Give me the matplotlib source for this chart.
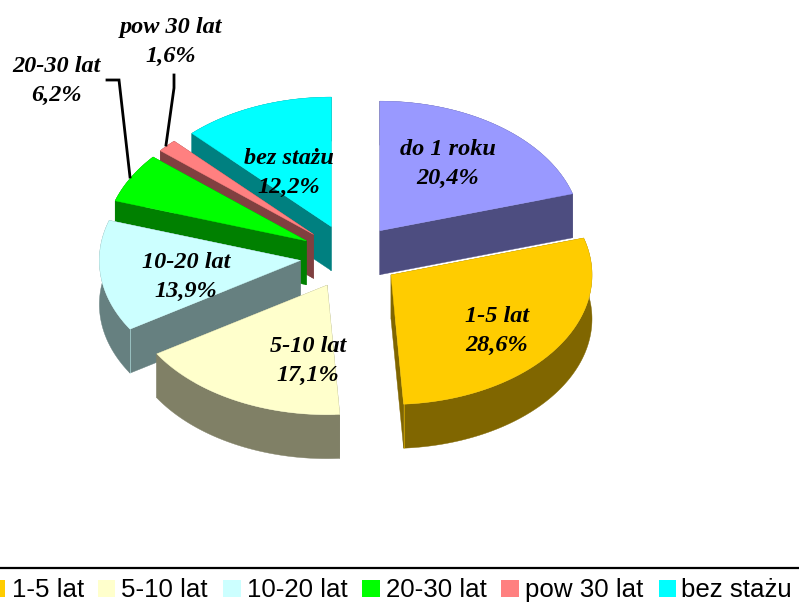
import numpy as np
import matplotlib
matplotlib.use('Agg')
import matplotlib.pyplot as plt
from matplotlib.patches import Rectangle

categories = ['do 1 roku', '1-5 lat', '5-10 lat', '10-20 lat', '20-30 lat', 'pow 30 lat', 'bez stażu']
values = [20.4, 28.6, 17.1, 13.9, 6.2, 1.6, 12.2]
top_colors = ['#9999FF', '#FFCC00', '#FFFFCC', '#CCFFFF', '#00FF00', '#FF8080', '#00FFFF']
side_colors = ['#4D4D80', '#806600', '#808066', '#668080', '#008000', '#804040', '#008080']

# pie geometry in pixels
cx, cy = 350, 256.5
rx, ry = 201, 129.5
depth = 44
explode = 50

# back slices first
draw_order = [0, 6, 5, 4, 3, 2, 1]

# light line on the corner where cut face meets the rim
seam_slices = {1: -1, 3: 1}

label_pos = [(448, 164), (497, 331), (308, 361), (186, 277), (56, 81), (171, 42), (289, 173)]

# legend swatches and text start, the first one is cut off by the image edge
legend_x = [(-12, 5, 12), (98, 115, 121), (223, 241, 247), (362, 380, 386), (501, 519, 525), (659, 676, 681)]
legend_colors = top_colors[1:]
legend_names = categories[1:]

leaders = [
    ([107, 119, 130], [80, 80, 177]),
    ([174, 174, 166], [75, 88, 145]),
]

fig = plt.figure(figsize=(7.99, 6.04), dpi=100)
ax = fig.add_axes([0, 0, 1, 1])
ax.set_xlim(0, 799)
ax.set_ylim(604, 0)
ax.axis('off')

shares = np.array(values) / sum(values) * 360
ends = np.cumsum(shares)
starts = ends - shares

for z, i in enumerate(draw_order):
    mid = np.radians((starts[i] + ends[i]) / 2)
    ax0 = cx + explode * np.sin(mid)
    ay0 = cy - explode * np.cos(mid) * ry / rx
    t = np.radians(np.linspace(starts[i], ends[i], 120))
    arc_x = ax0 + rx * np.sin(t)
    arc_y = ay0 - ry * np.cos(t)
    zo = 2 + z

    # rim and both cut faces, then the top on them
    ax.fill(np.r_[arc_x, arc_x[::-1]], np.r_[arc_y, arc_y[::-1] + depth],
            color=side_colors[i], lw=0.3, zorder=zo)
    for ex, ey in [(arc_x[0], arc_y[0]), (arc_x[-1], arc_y[-1])]:
        ax.fill([ax0, ex, ex, ax0], [ay0, ey, ey + depth, ay0 + depth],
                color=side_colors[i], lw=0.3, zorder=zo)
    ax.fill(np.r_[ax0, arc_x], np.r_[ay0, arc_y], color=top_colors[i], lw=0.3, zorder=zo)

    if i in seam_slices:
        k = 0 if seam_slices[i] > 0 else -1
        ax.plot([arc_x[k], arc_x[k]], [arc_y[k], arc_y[k] + depth],
                color=top_colors[i], lw=0.5, alpha=0.7, zorder=zo)

for name, val, (lx, ly) in zip(categories, values, label_pos):
    txt = name + '\n' + f'{val:.1f}'.replace('.', ',') + '%'
    ax.text(lx, ly, txt, ha='center', va='center', family='Liberation Serif',
            weight='bold', style='italic', fontsize=17.5, color='black',
            linespacing=1.46, zorder=20)

for lx, ly in leaders:
    ax.plot(lx, ly, color='black', lw=2, solid_joinstyle='miter', zorder=15)

# legend box top border
ax.plot([0, 799], [567.5, 567.5], color='black', lw=1.6, zorder=15)
for (x0, x1, xt), col, name in zip(legend_x, legend_colors, legend_names):
    ax.add_patch(Rectangle((x0, 580), x1 - x0, 17, facecolor=col, edgecolor='none', zorder=15))
    ax.text(xt, 597, name, ha='left', va='baseline', family='Liberation Sans',
            fontsize=18.6, color='black', zorder=20)

fig.savefig('out.png', dpi=100)
